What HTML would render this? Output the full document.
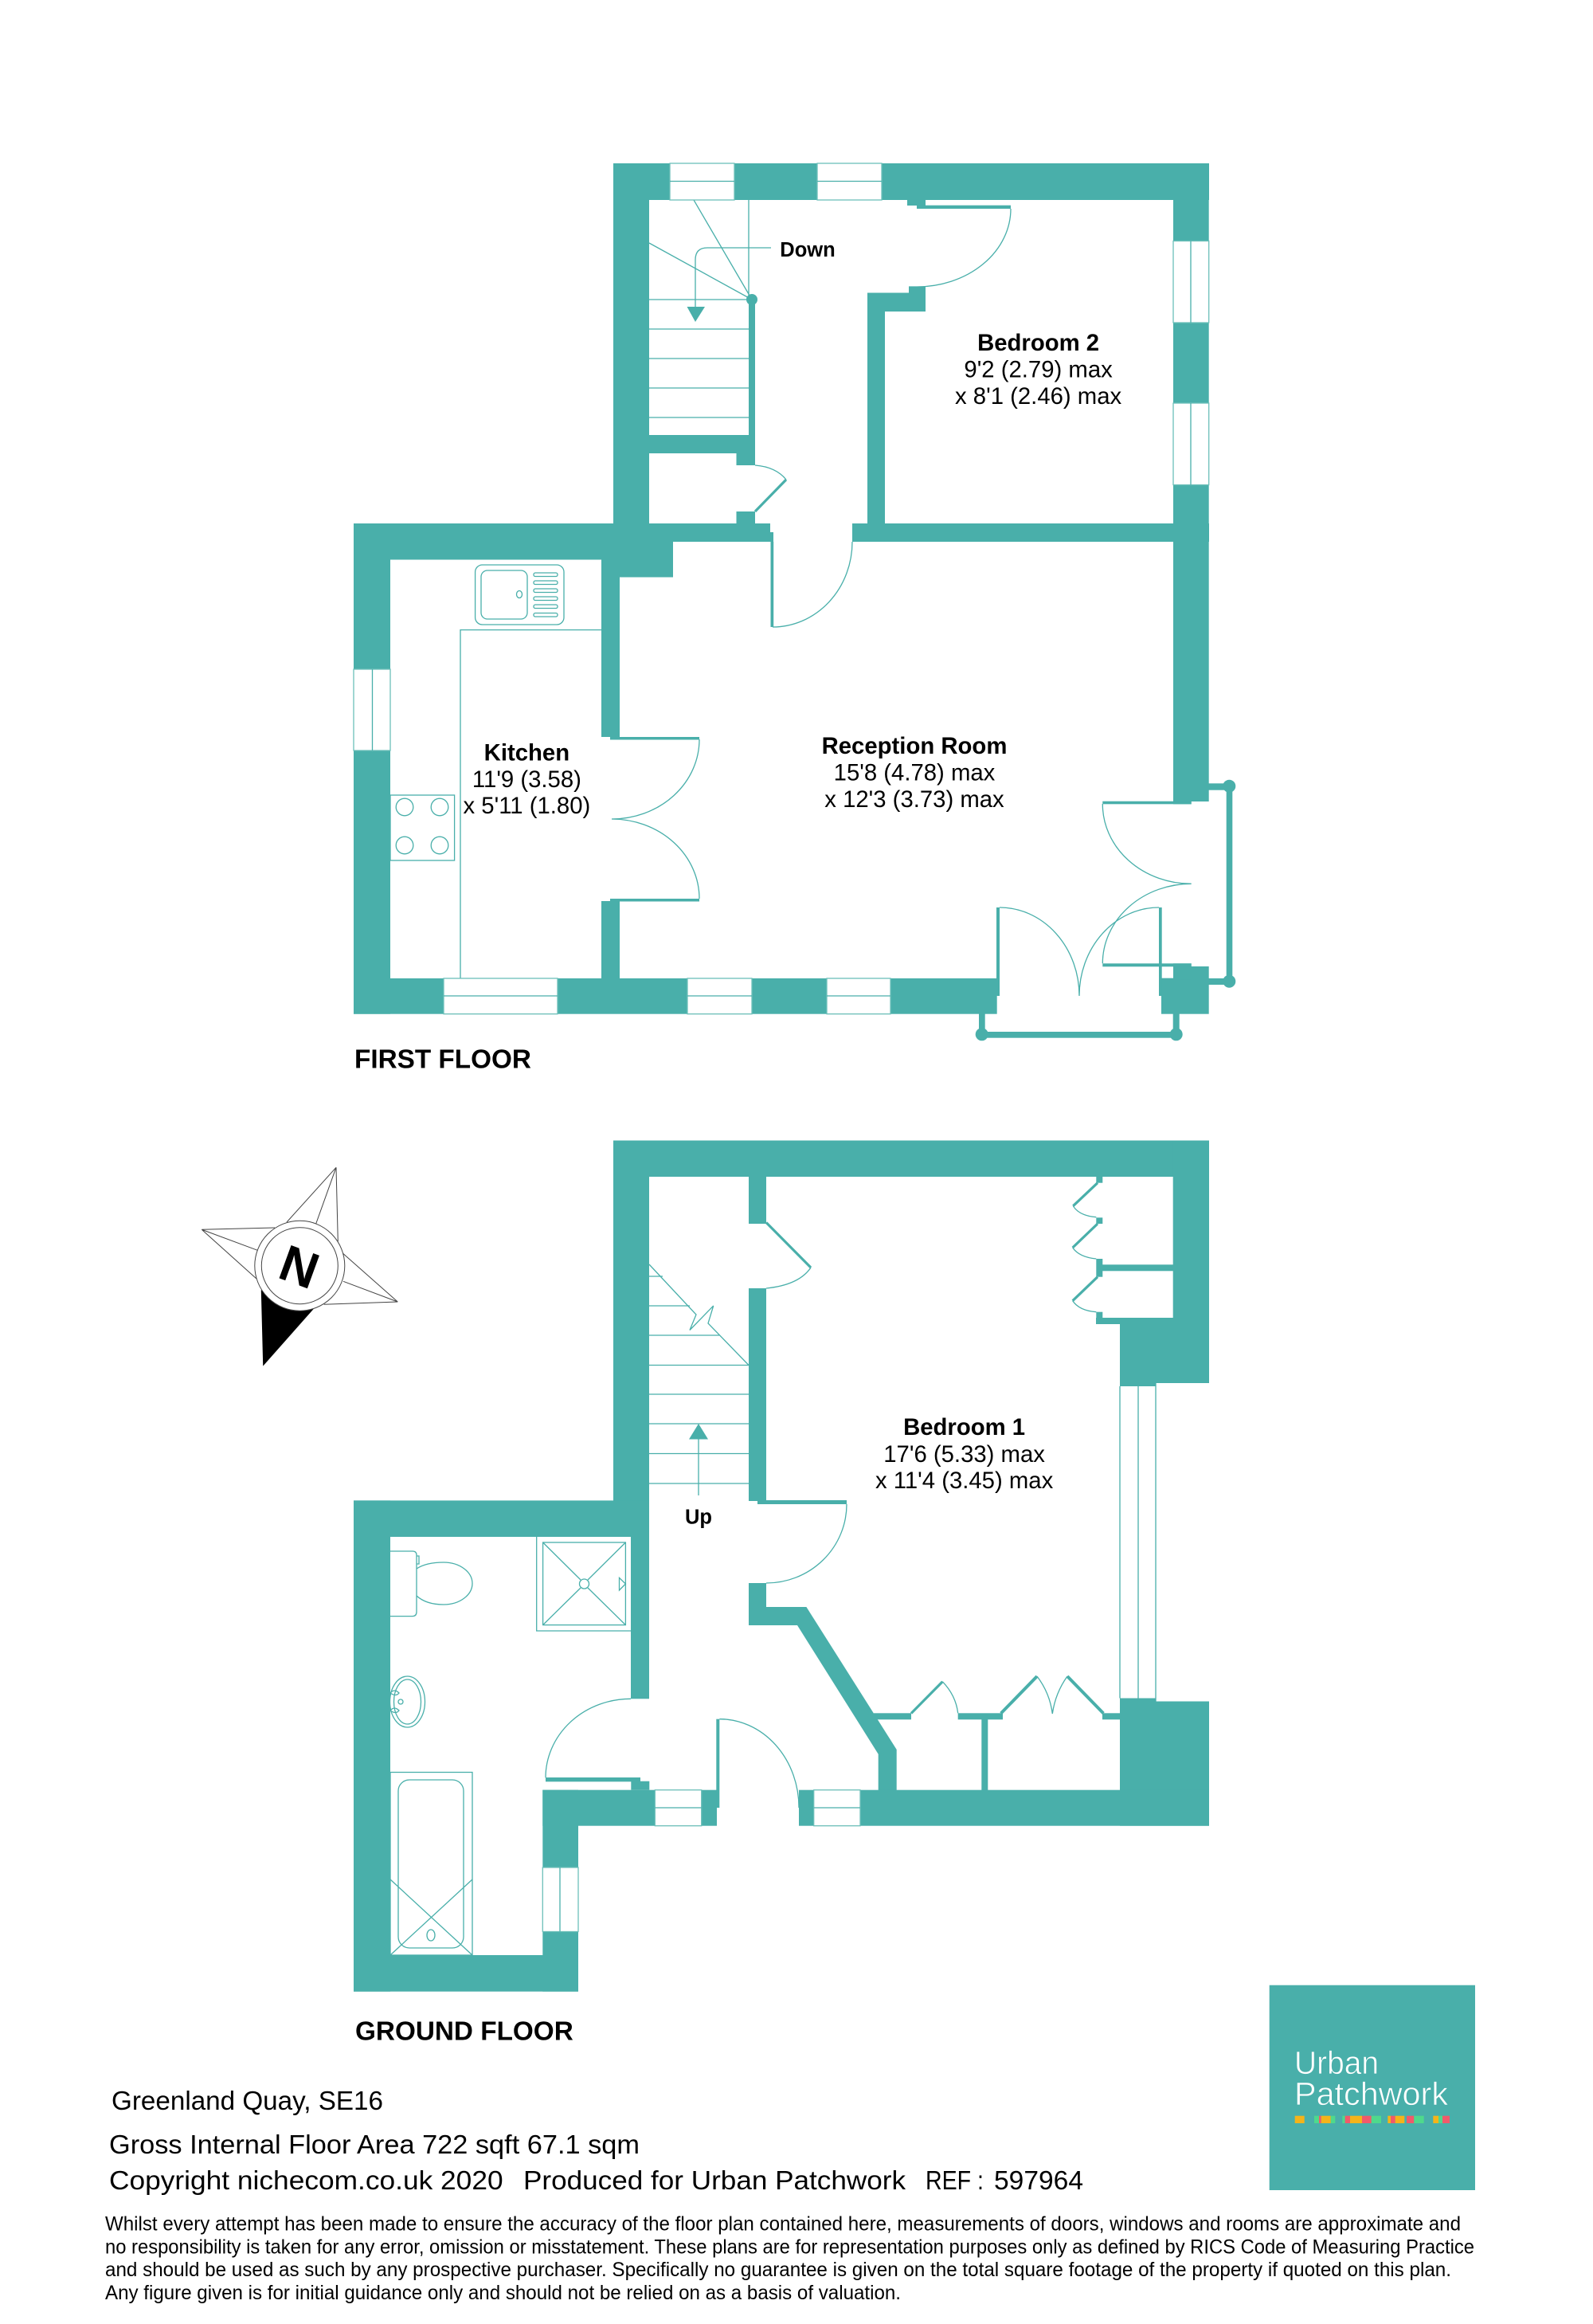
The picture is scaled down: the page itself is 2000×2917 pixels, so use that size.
<!DOCTYPE html>
<html><head><meta charset="utf-8"><title>Floor plan</title>
<style>
html,body{margin:0;padding:0;background:#fff}
svg{display:block}
.w{fill:#49afaa}
.l{fill:none;stroke:#49afaa;stroke-width:1.3}
.k{fill:none;stroke:#49afaa;stroke-width:3.2}
.win{fill:#fff;stroke:#6cbfb9;stroke-width:1.3}
.b{font:bold 29.3px "Liberation Sans",sans-serif;fill:#000;text-anchor:middle}
.n{font:29.3px "Liberation Sans",sans-serif;fill:#000;text-anchor:middle}
.f{font:33.3px "Liberation Sans",sans-serif;fill:#000}
.s{font:25px "Liberation Sans",sans-serif;fill:#000}
.h{font:bold 33.3px "Liberation Sans",sans-serif;fill:#000}
.t{font:bold 25.5px "Liberation Sans",sans-serif;fill:#000;text-anchor:middle}
.c{fill:none;stroke:#444;stroke-width:1}
</style></head><body>
<svg xmlns="http://www.w3.org/2000/svg" width="2000" height="2917" viewBox="0 0 2000 2917">
<rect width="2000" height="2917" fill="#fff"/>

<!-- FIRST FLOOR lines -->
<g class="l">
<path d="M871 251L944 376M940 251V376M815 305L944 376"/>
<path d="M815 376H940M815 413H940M815 450H940M815 487H940M815 524H940"/>
<path d="M968 311H888Q873 311 873 326V386"/>
<path d="M1269 262A118 98 0 0 1 1151 360H1141"/>
<path d="M948 584Q974 586 987 602"/>
<path d="M1070 680A100 107 0 0 1 970 787"/>
<path d="M878 928A110 100 0 0 1 768 1028M878 1128A110 100 0 0 0 768 1028"/>
<path d="M1384.3 1009A111.4 100 0 0 0 1495.7 1109.3M1384.3 1209.3A111.4 100 0 0 1 1495.7 1109.3"/>
<path d="M1255 1139A100 111 0 0 1 1355 1250M1455 1139A100 111 0 0 0 1355 1250"/>
<path d="M578 1228V790.6H755"/>
<rect x="596.6" y="709" width="111.4" height="75" rx="9"/>
<rect x="604" y="716" width="58" height="61" rx="8"/>
<rect x="670" y="719" width="30" height="4.5" rx="2"/><rect x="670" y="729" width="30" height="4.5" rx="2"/><rect x="670" y="739" width="30" height="4.5" rx="2"/><rect x="670" y="749" width="30" height="4.5" rx="2"/><rect x="670" y="759" width="30" height="4.5" rx="2"/><rect x="670" y="769.5" width="30" height="4.5" rx="2"/>
<ellipse cx="652" cy="746" rx="3.5" ry="4.5"/>
<rect x="490" y="998" width="80.6" height="82"/>
<circle cx="508" cy="1013" r="10.8"/><circle cx="552" cy="1013" r="10.8"/><circle cx="508" cy="1061" r="10.8"/><circle cx="552" cy="1061" r="10.8"/>
</g>
<path class="w" d="M862.5 385H885L873 404Z"/>
<circle class="w" cx="944" cy="376" r="7"/>

<!-- FIRST FLOOR walls -->
<g class="w">
<rect x="770" y="205" width="748" height="46"/>
<rect x="770" y="205" width="45" height="475"/>
<rect x="1473" y="205" width="44.7" height="801"/>
<rect x="1473" y="1006" width="22.7" height="3.3"/>
<rect x="1139" y="251" width="23" height="7"/>
<rect x="1151" y="257.7" width="118" height="4.3"/>
<rect x="1141" y="360" width="21" height="8"/>
<rect x="1089" y="367.5" width="73" height="23.5"/>
<rect x="1089" y="367.5" width="22" height="290"/>
<rect x="940" y="376" width="8" height="208"/>
<rect x="815" y="546" width="133" height="23"/>
<rect x="924.5" y="569" width="23.5" height="15"/>
<rect x="924.5" y="642" width="23.5" height="15"/>
<rect x="444" y="657" width="523" height="23"/>
<rect x="967" y="668" width="4" height="12"/>
<rect x="1070" y="657" width="448" height="23"/>
<rect x="444" y="657" width="401" height="45.5"/>
<rect x="755" y="680" width="90" height="44.5"/>
<rect x="444" y="657" width="46" height="615.7"/>
<rect x="755" y="702" width="23" height="223"/>
<rect x="766" y="925" width="112" height="3.5"/>
<rect x="766" y="1128" width="112" height="3.5"/>
<rect x="755" y="1131" width="23" height="97"/>
<rect x="967.5" y="680" width="3.7" height="107"/>
<rect x="444" y="1228" width="807.7" height="44.7"/>
<rect x="1251" y="1139" width="4" height="111"/>
<rect x="1458" y="1227.7" width="59.7" height="45"/>
<rect x="1455" y="1139" width="3.7" height="111"/>
<rect x="1473" y="1209.3" width="22.7" height="20"/>
<rect x="1495" y="1213" width="22.7" height="20"/>
<rect x="1384.3" y="1209.3" width="111.4" height="4"/>
<rect x="1384.3" y="1005.7" width="111.4" height="3.6"/>
<rect x="1517" y="983.3" width="26" height="8.4"/>
<rect x="1517" y="1228" width="26" height="8"/>
<rect x="1539.7" y="986.7" width="7.6" height="245"/>
<circle cx="1543.3" cy="986.7" r="8"/><circle cx="1543.3" cy="1231.7" r="8"/>
<rect x="1229" y="1272" width="7.7" height="26"/>
<rect x="1472.7" y="1272" width="8" height="26"/>
<rect x="1232.7" y="1295" width="244" height="7.7"/>
<circle cx="1232.7" cy="1298.3" r="8"/><circle cx="1476.7" cy="1298.3" r="8"/>
</g>
<path class="k" d="M948 642L987 602"/>
<!-- FIRST FLOOR windows -->
<rect class="win" x="841" y="205" width="81" height="46"/><path class="l" d="M841 227.5H922"/>
<rect class="win" x="1026" y="205" width="81" height="46"/><path class="l" d="M1026 227.5H1107"/>
<rect class="win" x="1473" y="302.5" width="44.7" height="102.5"/><path class="l" d="M1495 302.5V405"/>
<rect class="win" x="1473" y="506" width="44.7" height="102.6"/><path class="l" d="M1495 506V608.6"/>
<rect class="win" x="444" y="840" width="46" height="102"/><path class="l" d="M467.5 840V942"/>
<rect class="win" x="557" y="1228" width="143" height="44.7"/><path class="l" d="M557 1250H700"/>
<rect class="win" x="863" y="1228" width="81" height="44.7"/><path class="l" d="M863 1250H944"/>
<rect class="win" x="1038" y="1228" width="80" height="44.7"/><path class="l" d="M1038 1250H1118"/>

<!-- GROUND FLOOR lines -->
<g class="l">
<path d="M815 1587L874 1650L866 1669.5L895.7 1639L889 1661L940 1713.5"/>
<path d="M815 1602H832M815 1639H866M815 1676H903M815 1713.5H940M815 1750H940M815 1787H940M815 1824.5H940M815 1862H940"/>
<path d="M877 1877V1806"/>
<path d="M1063 1888A101 99 0 0 1 962 1987"/>
<path d="M1018 1591Q1003 1613 962 1617"/>
<path d="M1347.3 1513.7Q1355 1526 1376.3 1527.7M1346.7 1566Q1355 1578 1376.3 1580M1346.7 1632.7Q1355 1645 1376.3 1646.7"/>
<path d="M1406 1740V2131.5M1429 1740V2131.5M1451 1736V2135.5"/>
<path d="M792 2132.3A107 99 0 0 0 685 2231.3"/>
<path d="M903.3 2157.7A99.7 111 0 0 1 1003 2269"/>
<path d="M1183.3 2110.7Q1200 2128 1202.7 2150.3M1302 2104Q1318 2125 1321.3 2151M1340 2104Q1325 2125 1321.3 2151"/>
<!-- shower -->
<path d="M673.7 1929V2047H792"/>
<rect x="681.6" y="1936" width="103.8" height="103.6"/>
<path d="M681.6 1936L729 1983M785.4 1936L738 1983M681.6 2039.6L729 1993M785.4 2039.6L738 1993"/>
<circle cx="733.5" cy="1988" r="6"/>
<path d="M777.5 1980.4V1996L785.4 1988Z"/>
<!-- wc -->
<path d="M490 1947H518Q523 1947 523 1952V2023Q523 2028.6 518 2028.6H490"/>
<path d="M523 1953H526V1963H523"/>
<path d="M523 1969Q535 1961 557 1961A36 26.5 0 0 1 557 2014Q535 2014 523 2003"/>
<!-- basin -->
<ellipse cx="511.5" cy="2136" rx="22" ry="32"/>
<ellipse cx="511.5" cy="2136" rx="17" ry="28"/>
<circle cx="503" cy="2136" r="3"/>
<path d="M490 2125Q495 2119 501 2125Q497 2130 490 2125ZM490 2147Q495 2141 501 2147Q497 2152 490 2147Z"/>
<!-- bath -->
<rect x="490" y="2224.5" width="103" height="229.5"/>
<rect x="500" y="2234" width="82" height="211" rx="14"/>
<path d="M490 2359L593 2454M593 2359L490 2454"/>
<ellipse cx="541" cy="2429" rx="5" ry="7"/>
</g>
<path class="w" d="M877 1787L889 1806.5H865Z"/>

<!-- GROUND FLOOR walls -->
<g class="w">
<rect x="770" y="1431.5" width="748" height="45.5"/>
<rect x="770" y="1431.5" width="45" height="497.5"/>
<rect x="444" y="1883.4" width="371" height="45.6"/>
<rect x="444" y="1883.4" width="46" height="616.3"/>
<rect x="792" y="1929" width="23" height="203.3"/>
<rect x="1472.7" y="1431.5" width="45.3" height="304.5"/>
<rect x="1376.3" y="1476" width="8" height="8.7"/>
<rect x="1376.3" y="1528.3" width="8" height="7.7"/>
<rect x="1376.3" y="1580" width="8" height="22.7"/>
<rect x="1384" y="1587.3" width="89" height="8"/>
<rect x="1376.3" y="1646.7" width="8" height="15.3"/>
<rect x="1376" y="1654" width="97" height="8"/>
<rect x="1406" y="1654" width="112" height="82"/>
<rect x="1406" y="1736" width="45" height="4"/>
<rect x="940" y="1477" width="22" height="59"/>
<rect x="940" y="1617" width="22" height="267"/>
<rect x="951" y="1883" width="112" height="5"/>
<rect x="940" y="1987" width="22" height="53"/>
<path d="M940 2017H1012.4L1125.7 2196V2247H1102.7V2201.7L1001 2040H940Z"/>
<rect x="1097" y="2150.3" width="47" height="8"/>
<rect x="1202.7" y="2150.3" width="56.3" height="8"/>
<rect x="1384" y="2150.3" width="22" height="8"/>
<rect x="1232.3" y="2158" width="8" height="89"/>
<rect x="1406" y="2131.5" width="45" height="4"/>
<rect x="1406" y="2135.5" width="112" height="156.2"/>
<rect x="1003" y="2246.7" width="515" height="45"/>
<rect x="681.3" y="2246.7" width="218.7" height="45"/>
<rect x="681.3" y="2246.7" width="44.7" height="253"/>
<rect x="444" y="2454" width="282" height="45.7"/>
<rect x="685" y="2231" width="119" height="5.3"/>
<rect x="792.3" y="2235.7" width="23" height="11"/>
<rect x="899.3" y="2157.7" width="4" height="111.3"/>
</g>
<path class="k" d="M1378 1484.7L1347.3 1513.7M1378 1536L1346.7 1566M1378 1602.7L1346.7 1632.7"/>
<path class="k" d="M962 1534.5L1018 1591"/>
<path class="k" d="M1144 2150.5L1183.3 2110.7"/>
<path class="k" stroke-width="4" d="M1256.7 2150.5L1302 2104M1340 2104L1385.3 2150.5" style="stroke-width:4"/>
<rect class="win" x="822.3" y="2246.7" width="58.4" height="45"/><path class="l" d="M822.3 2269H880.7"/>
<rect class="win" x="1021.7" y="2246.7" width="58.3" height="45"/><path class="l" d="M1021.7 2269H1080"/>
<rect class="win" x="681.3" y="2344" width="44.7" height="80.5"/><path class="l" d="M703 2344V2424.5"/>

<!-- labels -->
<text class="t" x="1014" y="322">Down</text>
<text class="b" x="1303.6" y="440">Bedroom 2</text>
<text class="n" x="1303.6" y="473.5">9'2 (2.79) max</text>
<text class="n" x="1303.6" y="507">x 8'1 (2.46) max</text>
<text class="b" x="661.4" y="954.6">Kitchen</text>
<text class="n" x="661.4" y="988">11'9 (3.58)</text>
<text class="n" x="661.4" y="1021">x 5'11 (1.80)</text>
<text class="b" x="1148" y="946">Reception Room</text>
<text class="n" x="1148" y="979.5">15'8 (4.78) max</text>
<text class="n" x="1148" y="1013">x 12'3 (3.73) max</text>
<text class="h" x="445" y="1340.5">FIRST FLOOR</text>
<text class="b" x="1210.6" y="1801">Bedroom 1</text>
<text class="n" x="1210.6" y="1835">17'6 (5.33) max</text>
<text class="n" x="1210.6" y="1868">x 11'4 (3.45) max</text>
<text class="t" x="877" y="1912.5">Up</text>
<text class="h" x="446" y="2560.5">GROUND FLOOR</text>

<!-- compass -->
<g>
<path d="M328.3 1620L330.7 1713.3L392.7 1643.3Z" fill="#000" stroke="#000"/>
<path class="c" d="M360 1534L422 1465.3L396.7 1536M422 1465.3L424.3 1558.3"/>
<path class="c" d="M345 1541L253.3 1543.3L323.3 1569.3M253.3 1543.3L322 1605"/>
<path class="c" d="M430 1572.7L499.3 1634L431 1608.3M499.3 1634L406.7 1637.3"/>
<circle cx="376.3" cy="1588.7" r="56.5" fill="#fff" stroke="#444"/>
<circle cx="376.3" cy="1588.7" r="48" fill="none" stroke="#444"/>
<text x="0" y="0" transform="translate(376.3 1588.7) rotate(20)" style="font:bold 64px 'Liberation Sans',sans-serif" text-anchor="middle" dy="23.5" fill="#000">N</text>
</g>

<!-- logo -->
<rect class="w" x="1593.7" y="2491.7" width="258.3" height="257.3"/>
<text x="1625" y="2603" textLength="106" lengthAdjust="spacingAndGlyphs" style="font:41px 'Liberation Sans',sans-serif" fill="#fff" stroke="#49afaa" stroke-width="0.7">Urban</text>
<text x="1625" y="2642" textLength="193" lengthAdjust="spacingAndGlyphs" style="font:41px 'Liberation Sans',sans-serif" fill="#fff" stroke="#49afaa" stroke-width="0.7">Patchwork</text>
<g>
<rect x="1625.7" y="2655.7" width="12" height="9.3" fill="#f4b41a"/>
<rect x="1650" y="2655.7" width="6" height="9.3" fill="#4fd98c"/>
<rect x="1656" y="2655.7" width="2.7" height="9.3" fill="#f05a6b"/>
<rect x="1658.7" y="2655.7" width="12" height="9.3" fill="#f4b41a"/>
<rect x="1670.7" y="2655.7" width="5.6" height="9.3" fill="#4fd98c"/>
<rect x="1685.3" y="2655.7" width="3.4" height="9.3" fill="#4fd98c"/>
<rect x="1688.7" y="2655.7" width="6.3" height="9.3" fill="#f05a6b"/>
<rect x="1695" y="2655.7" width="15" height="9.3" fill="#f4b41a"/>
<rect x="1710" y="2655.7" width="11.7" height="9.3" fill="#f05a6b"/>
<rect x="1721.7" y="2655.7" width="12.3" height="9.3" fill="#4fd98c"/>
<rect x="1742.3" y="2655.7" width="3.7" height="9.3" fill="#f4b41a"/>
<rect x="1746" y="2655.7" width="5.7" height="9.3" fill="#f05a6b"/>
<rect x="1751.7" y="2655.7" width="11.6" height="9.3" fill="#f4b41a"/>
<rect x="1766" y="2655.7" width="9.3" height="9.3" fill="#f05a6b"/>
<rect x="1775.3" y="2655.7" width="12.4" height="9.3" fill="#4fd98c"/>
<rect x="1799.3" y="2655.7" width="6.7" height="9.3" fill="#f4b41a"/>
<rect x="1806" y="2655.7" width="5" height="9.3" fill="#4fd98c"/>
<rect x="1811" y="2655.7" width="9" height="9.3" fill="#f05a6b"/>
</g>

<!-- footer -->
<text class="f" x="140" y="2648" textLength="341" lengthAdjust="spacingAndGlyphs">Greenland Quay, SE16</text>
<text class="f" x="137" y="2703" textLength="666" lengthAdjust="spacingAndGlyphs">Gross Internal Floor Area 722 sqft 67.1 sqm</text>
<text class="f" x="137" y="2748" textLength="494.6" lengthAdjust="spacingAndGlyphs">Copyright nichecom.co.uk 2020</text>
<text class="f" x="657" y="2748" textLength="480" lengthAdjust="spacingAndGlyphs">Produced for Urban Patchwork</text>
<text class="f" x="1162" y="2748" textLength="73" lengthAdjust="spacingAndGlyphs">REF :</text>
<text class="f" x="1248" y="2748" textLength="112" lengthAdjust="spacingAndGlyphs">597964</text>
<text class="s" x="132" y="2799.5" textLength="1702" lengthAdjust="spacingAndGlyphs">Whilst every attempt has been made to ensure the accuracy of the floor plan contained here, measurements of doors, windows and rooms are approximate and</text>
<text class="s" x="132" y="2828.5" textLength="1719" lengthAdjust="spacingAndGlyphs">no responsibility is taken for any error, omission or misstatement. These plans are for representation purposes only as defined by RICS Code of Measuring Practice</text>
<text class="s" x="132" y="2857" textLength="1690" lengthAdjust="spacingAndGlyphs">and should be used as such by any prospective purchaser.  Specifically no guarantee is given on the total square footage of the property if quoted on this plan.</text>
<text class="s" x="132" y="2886" textLength="999" lengthAdjust="spacingAndGlyphs">Any figure given is for initial guidance only and should not be relied on as a basis of valuation.</text>
</svg>
</body></html>
